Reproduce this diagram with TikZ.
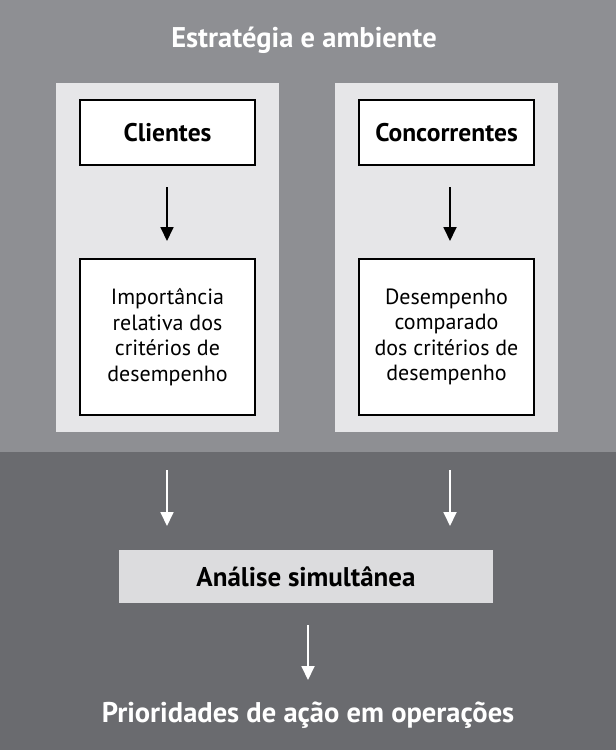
\documentclass[tikz,border=0pt]{standalone}
\usepackage{fontspec}
\setmainfont{PT Sans}
\usetikzlibrary{arrows.meta}
\definecolor{topbg}{HTML}{8E8F93}
\definecolor{botbg}{HTML}{6A6B6F}
\definecolor{panel}{HTML}{E6E6E8}
\definecolor{anal}{HTML}{DCDCDE}
\begin{document}
\begin{tikzpicture}[x=1pt,y=-1pt,
  box/.style={draw=black,line width=1.2pt,fill=white,inner sep=0pt,align=center,font=\fontsize{22}{25.5}\selectfont},
  title/.style={font=\bfseries\fontsize{28.5}{32}\selectfont,text=white},
  blk/.style={-{Triangle[length=14pt,width=13pt]},line width=1.8pt,black},
  wht/.style={-{Triangle[length=14pt,width=13pt]},line width=1.8pt,white}]
\useasboundingbox (0,0) rectangle (616,750);
\fill[topbg] (0,0) rectangle (616,452);
\fill[botbg] (0,452) rectangle (616,750);
\fill[panel] (56,83) rectangle (279,432);
\fill[panel] (335,83) rectangle (558,432);
\node[title] (t) at (304,40) {Estratégia e ambiente};
\node[box,minimum width=175pt,minimum height=65pt,font=\bfseries\fontsize{25.5}{28}\selectfont] (c1) at (167.5,132.5) {Clientes};
\node[box,minimum width=175pt,minimum height=65pt,font=\bfseries\fontsize{25.5}{28}\selectfont] (c2) at (446.5,132.5) {Concorrentes};
\node[box,minimum width=175pt,minimum height=156pt] (i1) at (167.5,337) {Importância\\relativa dos\\critérios de\\desempenho};
\node[box,minimum width=175pt,minimum height=156pt] (i2) at (446.5,337) {Desempenho\\comparado\\dos critérios de\\desempenho};
\coordinate (b1s) at (167,187); \coordinate (b1e) at (167,241);
\coordinate (b2s) at (450,187); \coordinate (b2e) at (450,241);
\draw[blk] (b1s) -- (b1e);
\draw[blk] (b2s) -- (b2e);
\node[fill=anal,minimum width=374pt,minimum height=53pt,font=\bfseries\fontsize{27}{30}\selectfont] (a) at (306,576.5) {Análise simultânea};
\coordinate (w1) at (167,470); \coordinate (w1e) at (167,526);
\coordinate (w2) at (450,470); \coordinate (w2e) at (450,526);
\coordinate (w3) at (308,625); \coordinate (w3e) at (308,680);
\draw[wht] (w1) -- (w1e);
\draw[wht] (w2) -- (w2e);
\draw[wht] (w3) -- (w3e);
\node[title] (p) at (308,715) {Prioridades de ação em operações};
\end{tikzpicture}
\end{document}
